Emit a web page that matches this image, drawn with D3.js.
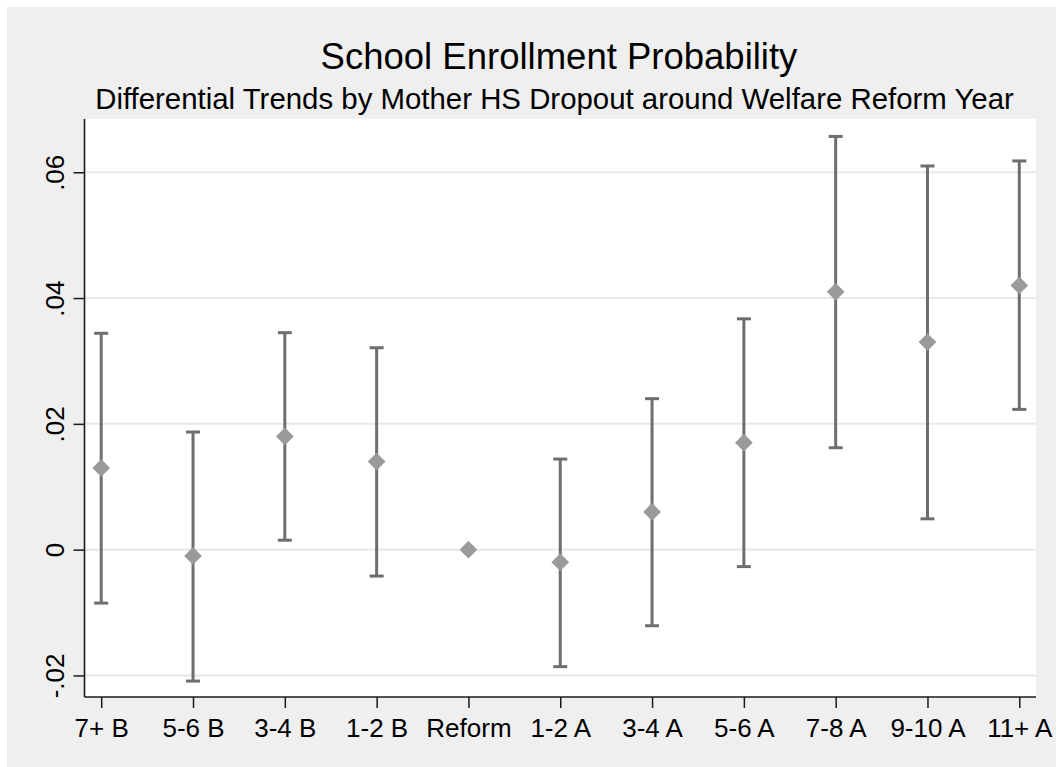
<!DOCTYPE html>
<html>
<head>
<meta charset="utf-8">
<script src="https://cdn.jsdelivr.net/npm/d3@7"></script>
<style>
  html, body { margin: 0; padding: 0; background: #ffffff; }
  svg { display: block; font-family: "Liberation Sans", Arial, Helvetica, sans-serif; }
</style>
</head>
<body>
<svg id="chart" width="1056" height="767"></svg>
<script>
// Event-study estimates: periods relative to the welfare reform year
const categories = ["7+ B", "5-6 B", "3-4 B", "1-2 B", "Reform", "1-2 A", "3-4 A", "5-6 A", "7-8 A", "9-10 A", "11+ A"];
const estimates  = [0.013, -0.001, 0.018, 0.014, 0.000, -0.002, 0.006, 0.017, 0.041, 0.033, 0.042];
const ciLower    = [-0.0085, -0.0209, 0.0015, -0.0042, null, -0.0186, -0.0121, -0.0027, 0.0162, 0.0049, 0.0223];
const ciUpper    = [0.0344, 0.0187, 0.0345, 0.0321, null, 0.0144, 0.0240, 0.0367, 0.0657, 0.0610, 0.0618];
const yTickValues = [-0.02, 0, 0.02, 0.04, 0.06];
const yTickLabels = ["-.02", "0", ".02", ".04", ".06"];

const titleText = "School Enrollment Probability";
const subtitleText = "Differential Trends by Mother HS Dropout around Welfare Reform Year";

const W = 1056, H = 767;
const plot = { left: 84.5, right: 1036, top: 119, bottom: 697 };

const svg = d3.select("#chart");

// outer graph region
svg.append("rect")
  .attr("x", 7).attr("y", 7)
  .attr("width", W - 7).attr("height", H - 7)
  .attr("fill", "#efefef");

// plot region
svg.append("rect")
  .attr("x", plot.left).attr("y", plot.top)
  .attr("width", plot.right - plot.left).attr("height", plot.bottom - plot.top)
  .attr("fill", "#ffffff");

const x = d3.scalePoint()
  .domain(categories)
  .range([plot.left, plot.right])
  .padding(0.182);

const y = d3.scaleLinear()
  .domain([-0.02343, 0.06847])
  .range([plot.bottom, plot.top]);

// horizontal grid lines
svg.append("g")
  .selectAll("line")
  .data(yTickValues)
  .join("line")
  .attr("x1", plot.left).attr("x2", plot.right)
  .attr("y1", d => y(d)).attr("y2", d => y(d))
  .attr("stroke", "#e8e8e8")
  .attr("stroke-width", 2);

// y axis
const yAxis = svg.append("g")
  .attr("transform", `translate(${plot.left},0)`)
  .call(d3.axisLeft(y)
    .tickValues(yTickValues)
    .tickFormat((d, i) => yTickLabels[i])
    .tickSize(11)
    .tickSizeOuter(0));
yAxis.select(".domain").attr("stroke", "#1a1a1a").attr("stroke-width", 1.6)
  .attr("d", `M0,${plot.top}V${plot.bottom}`);
yAxis.selectAll(".tick line").attr("stroke", "#1a1a1a").attr("stroke-width", 1.5);
yAxis.selectAll(".tick text")
  .attr("transform", "rotate(-90)")
  .attr("x", 0)
  .attr("y", -21)
  .attr("dy", 0)
  .attr("text-anchor", "middle")
  .attr("fill", "#000")
  .style("font-size", "26px");

// x axis
const xAxis = svg.append("g")
  .attr("transform", `translate(0,${plot.bottom})`)
  .call(d3.axisBottom(x)
    .tickSize(11)
    .tickSizeOuter(0));
xAxis.select(".domain").attr("stroke", "#1a1a1a").attr("stroke-width", 1.6)
  .attr("d", `M${plot.left},0H${plot.right}`);
xAxis.selectAll(".tick line").attr("stroke", "#1a1a1a").attr("stroke-width", 1.5);
xAxis.selectAll(".tick text")
  .attr("y", 40)
  .attr("dy", 0)
  .attr("fill", "#000")
  .style("font-size", "26px");

// confidence intervals
const rows = categories.map((c, i) => ({ c, est: estimates[i], lo: ciLower[i], hi: ciUpper[i] }));
const withCI = rows.filter(d => d.lo !== null && d.hi !== null);
const capHalf = 7;

const ci = svg.append("g")
  .attr("stroke", "#6e6e6e")
  .attr("stroke-width", 3)
  .attr("fill", "none");

ci.selectAll("line.stem")
  .data(withCI)
  .join("line")
  .attr("class", "stem")
  .attr("x1", d => x(d.c)).attr("x2", d => x(d.c))
  .attr("y1", d => y(d.lo)).attr("y2", d => y(d.hi));

ci.selectAll("line.caphi")
  .data(withCI)
  .join("line")
  .attr("class", "caphi")
  .attr("x1", d => x(d.c) - capHalf).attr("x2", d => x(d.c) + capHalf)
  .attr("y1", d => y(d.hi)).attr("y2", d => y(d.hi));

ci.selectAll("line.caplo")
  .data(withCI)
  .join("line")
  .attr("class", "caplo")
  .attr("x1", d => x(d.c) - capHalf).attr("x2", d => x(d.c) + capHalf)
  .attr("y1", d => y(d.lo)).attr("y2", d => y(d.lo));

// point estimates (diamonds)
const diamond = d3.symbol().type(d3.symbolDiamond2).size(200);
svg.append("g")
  .selectAll("path")
  .data(rows)
  .join("path")
  .attr("d", diamond)
  .attr("transform", d => `translate(${x(d.c)},${y(d.est)})`)
  .attr("fill", "#9a9a9a");

// titles
svg.append("text")
  .attr("x", 559).attr("y", 68.5)
  .attr("text-anchor", "middle")
  .style("font-size", "36.5px")
  .attr("fill", "#000")
  .text(titleText);

svg.append("text")
  .attr("x", 554.5).attr("y", 108.5)
  .attr("text-anchor", "middle")
  .style("font-size", "29.4px")
  .attr("fill", "#000")
  .text(subtitleText);
</script>
</body>
</html>
